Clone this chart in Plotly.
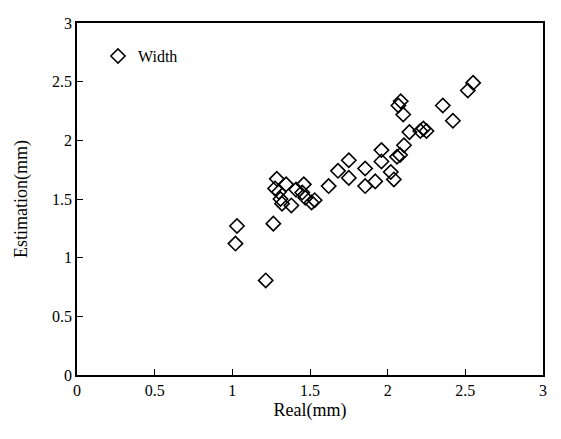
import plotly.graph_objects as go

real = [1.03, 1.02, 1.215, 1.264,
        1.286, 1.346, 1.275, 1.30, 1.31, 1.32, 1.38, 1.41, 1.46, 1.45, 1.47, 1.51, 1.53,
        1.62, 1.68, 1.75, 1.75, 1.855, 1.855, 1.92,
        1.96, 1.96, 2.02, 2.04, 2.08, 2.06, 2.105,
        2.084, 2.069, 2.10, 2.14, 2.21, 2.23, 2.25,
        2.355, 2.42, 2.516, 2.55]
estimation = [1.27, 1.12, 0.806, 1.29,
              1.672, 1.625, 1.59, 1.56, 1.50, 1.46, 1.445, 1.58, 1.625, 1.555, 1.51, 1.47, 1.49,
              1.61, 1.74, 1.83, 1.68, 1.76, 1.61, 1.65,
              1.917, 1.82, 1.73, 1.667, 1.875, 1.86, 1.958,
              2.333, 2.297, 2.22, 2.07, 2.08, 2.10, 2.08,
              2.297, 2.167, 2.425, 2.49]
tick_vals = [0, 0.5, 1, 1.5, 2, 2.5, 3]
tick_text = ["0", "0.5", "1", "1.5", "2", "2.5", "3"]

font_family = "Liberation Serif, Times New Roman, serif"

fig = go.Figure()
fig.add_trace(go.Scatter(
    x=real, y=estimation, mode="markers", name="Width",
    marker=dict(symbol="diamond-open", size=11, color="black", line=dict(width=1.6, color="black")),
))

axis_common = dict(
    range=[0, 3], tickvals=tick_vals, ticktext=tick_text,
    showgrid=False, zeroline=False, showline=True, linecolor="black", linewidth=1.5,
    mirror=True, ticks="inside", ticklen=6, tickwidth=1.2, tickcolor="black",
    tickfont=dict(family=font_family, size=16, color="black"),
)
fig.update_xaxes(**axis_common, title=dict(text="Real(mm)", font=dict(family=font_family, size=18, color="black"), standoff=5))
fig.update_yaxes(**axis_common, title=dict(text="Estimation(mm)", font=dict(family=font_family, size=18, color="black"), standoff=20))

fig.update_layout(
    width=553, height=431,
    margin=dict(l=69, r=18, t=7, b=64),
    paper_bgcolor="white", plot_bgcolor="white",
    showlegend=True,
    legend=dict(x=0.045, y=0.906, xanchor="left", yanchor="middle",
                font=dict(family=font_family, size=16, color="black"),
                bgcolor="rgba(0,0,0,0)", itemwidth=30),
)
fig.write_html("out.html")
